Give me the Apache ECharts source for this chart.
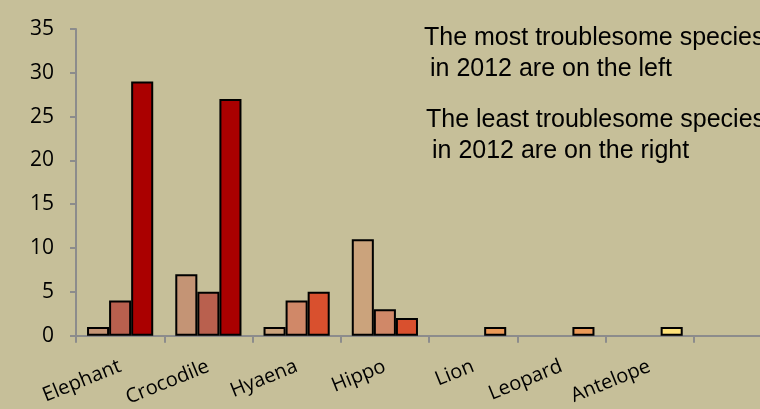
<!DOCTYPE html>
<html>
<head>
<meta charset="utf-8">
<script src="https://cdn.jsdelivr.net/npm/echarts@6/dist/echarts.min.js"></script>
<style>
html,body{margin:0;padding:0;background:#c6bf99;overflow:hidden;width:760px;height:409px;}
#c{width:790px;height:409px;}
</style>
</head>
<body>
<div id="c"></div>
<script>
var categories = ['Elephant', 'Crocodile', 'Hyaena', 'Hippo', 'Lion', 'Leopard', 'Antelope', ''];
var series1 = [1, 7, 1, 11, null, null, null, null];
var series2 = [4, 5, 4, 3, null, null, null, null];
var series3 = [29, 27, 5, 2, 1, 1, 1, null];
var yTicks = { min: 0, max: 35, interval: 5 };
var notes = [
  'The most troublesome species',
  'in 2012 are on the left',
  'The least troublesome species',
  'in 2012 are on the right'
];

var colors1 = ['#c49475', '#c49475', '#cba37c', '#cba37c', '#eb9a58', '#eb9a58', '#fde17a', '#fde17a'];
var colors2 = ['#b9604e', '#b9604e', '#d08868', '#d08868', '#eb9a58', '#eb9a58', '#fde17a', '#fde17a'];
var colors3 = ['#aa0000', '#aa0000', '#d9502e', '#d9502e', '#eb9a58', '#eb9a58', '#fde17a', '#fde17a'];

function mk(vals, cols) {
  return vals.map(function (v, i) {
    return { value: v, itemStyle: { color: cols[i] } };
  });
}

var chart = echarts.init(document.getElementById('c'), null, { renderer: 'canvas' });
var barCommon = {
  type: 'bar',
  barGap: '0%',
  barCategoryGap: '25%',
  itemStyle: { borderColor: '#000', borderWidth: 2 }
};
var textFont = '25px "Liberation Sans", Arial, sans-serif';
chart.setOption({
  backgroundColor: '#c6bf99',
  animation: false,
  grid: { left: 76, top: 29, height: 307, width: 706, containLabel: false },
  xAxis: {
    type: 'category',
    data: categories,
    boundaryGap: true,
    axisLine: { lineStyle: { color: '#8c8c8c', width: 2 } },
    axisTick: { show: true, length: 7, lineStyle: { color: '#8c8c8c', width: 2 } },
    axisLabel: {
      interval: 0,
      rotate: 22,
      margin: 30,
      color: '#000',
      fontSize: 20,
      fontFamily: '"Open Sans", sans-serif'
    }
  },
  yAxis: {
    type: 'value',
    min: yTicks.min,
    max: yTicks.max,
    interval: yTicks.interval,
    axisLine: { show: true, lineStyle: { color: '#8c8c8c', width: 2 } },
    axisTick: { show: true, length: 6, lineStyle: { color: '#8c8c8c', width: 2 } },
    splitLine: { show: false },
    axisLabel: {
      margin: 22,
      color: '#000',
      fontSize: 21,
      fontFamily: '"Open Sans", sans-serif'
    }
  },
  series: [
    Object.assign({ name: 's1', data: mk(series1, colors1) }, barCommon),
    Object.assign({ name: 's2', data: mk(series2, colors2) }, barCommon),
    Object.assign({ name: 's3', data: mk(series3, colors3) }, barCommon)
  ],
  graphic: [
    { type: 'text', left: 424, top: 26, style: { text: notes[0], font: textFont, fill: '#000' } },
    { type: 'text', left: 430, top: 57, style: { text: notes[1], font: textFont, fill: '#000' } },
    { type: 'text', left: 426, top: 108, style: { text: notes[2], font: textFont, fill: '#000' } },
    { type: 'text', left: 432, top: 139, style: { text: notes[3], font: textFont, fill: '#000' } }
  ]
});
</script>
</body>
</html>
